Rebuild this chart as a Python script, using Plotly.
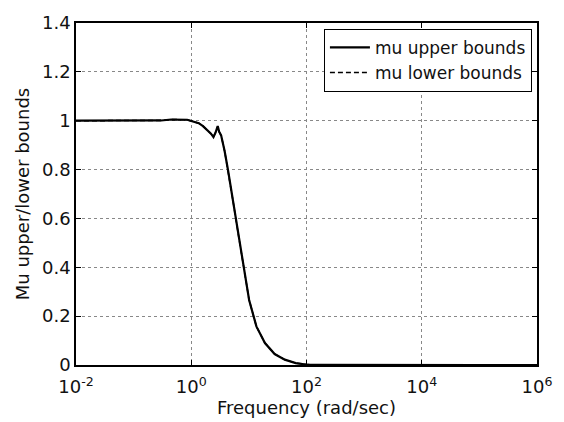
import plotly.graph_objects as go

freq = [0.01, 0.03, 0.1, 0.2, 0.3, 0.45, 0.65, 0.85, 1.0, 1.2, 1.35, 1.6, 2.0, 2.2, 2.43, 2.65, 2.88, 3.05, 3.3, 3.8, 4.35, 5.3, 6.45, 8.2, 10.1, 13.5, 19.0, 28.0, 42.0, 65.0, 98.0, 150.0, 1e3, 1e4, 1e5, 1e6]
mu_upper = [1.0, 1.0, 1.0, 1.0, 1.001, 1.005, 1.005, 1.004, 0.999, 0.994, 0.99, 0.978, 0.958, 0.947, 0.933, 0.952, 0.978, 0.955, 0.94, 0.875, 0.797, 0.672, 0.545, 0.401, 0.266, 0.158, 0.09, 0.045, 0.022, 0.008, 0.002, 0.001, 0.0, 0.0, 0.0, 0.0]
mu_lower = [1.0, 1.0, 1.0, 1.0, 1.001, 1.005, 1.005, 1.004, 0.999, 0.994, 0.99, 0.978, 0.958, 0.947, 0.933, 0.952, 0.976, 0.954, 0.94, 0.875, 0.797, 0.672, 0.545, 0.401, 0.266, 0.158, 0.09, 0.045, 0.022, 0.008, 0.002, 0.001, 0.0, 0.0, 0.0, 0.0]

x_tickvals = [1e-2, 1e0, 1e2, 1e4, 1e6]
x_ticktext = ["10<sup>-2</sup>", "10<sup>0</sup>", "10<sup>2</sup>", "10<sup>4</sup>", "10<sup>6</sup>"]
y_tickvals = [0, 0.2, 0.4, 0.6, 0.8, 1.0, 1.2, 1.4]
y_ticktext = ["0", "0.2", "0.4", "0.6", "0.8", "1", "1.2", "1.4"]

fig = go.Figure()
fig.add_trace(go.Scatter(x=freq, y=mu_upper, mode="lines", name="mu upper bounds",
                         line=dict(color="black", width=2.2)))
fig.add_trace(go.Scatter(x=freq, y=mu_lower, mode="lines", name="mu lower bounds",
                         line=dict(color="black", width=1.5, dash="5px,3px")))

font_family = "DejaVu Sans, Arial, sans-serif"
fig.update_layout(
    width=564, height=422,
    margin=dict(l=76, r=21, t=21, b=56),
    paper_bgcolor="white", plot_bgcolor="white",
    font=dict(family=font_family, size=18, color="#111111"),
    showlegend=True,
    legend=dict(x=0.989, y=0.983, xanchor="right", yanchor="top",
                bgcolor="white", bordercolor="black", borderwidth=1,
                font=dict(size=17), tracegroupgap=0, itemwidth=40),
)
fig.update_xaxes(type="log", range=[-2, 6], tickvals=x_tickvals, ticktext=x_ticktext,
                 showline=True, linecolor="black", linewidth=1.5, mirror="ticks",
                 ticks="inside", ticklen=5, tickcolor="black",
                 showgrid=True, gridcolor="#888888", griddash="dot", gridwidth=1,
                 zeroline=False, ticklabelstandoff=5,
                 title=dict(text="Frequency (rad/sec)", standoff=0, font=dict(size=18)),
                 tickfont=dict(size=18))
fig.update_yaxes(range=[0, 1.4], tickvals=y_tickvals, ticktext=y_ticktext,
                 showline=True, linecolor="black", linewidth=1.5, mirror="ticks",
                 ticks="inside", ticklen=5, tickcolor="black",
                 showgrid=True, gridcolor="#888888", griddash="dot", gridwidth=1,
                 zeroline=False,
                 title=dict(text="Mu upper/lower bounds", standoff=8, font=dict(size=18)),
                 tickfont=dict(size=18))

fig.write_html("out.html")
